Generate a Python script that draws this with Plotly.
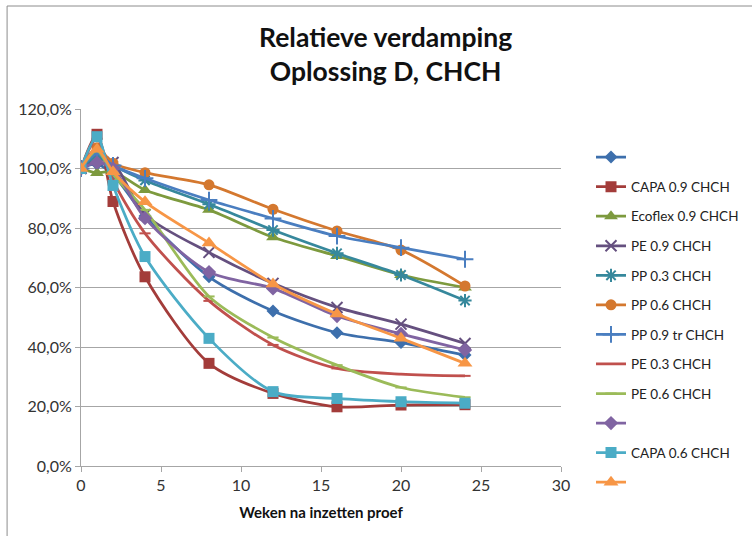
import plotly.graph_objects as go

# weeks after start of test
weeks = [0, 1, 2, 4, 8, 12, 16, 20, 24]

# relative evaporation in percent
s_blue_diamond = [100, 101.5, 98, 84, 63.6, 52.1, 44.8, 41.5, 37.3]
capa_09 = [100, 111.5, 88.9, 63.6, 34.5, 24.4, 19.9, 20.5, 20.6]
ecoflex_09 = [100, 98.5, 99, 92.8, 86.1, 76.9, 70.6, 64.2, 60.0]
pe_09 = [100, 103, 102, 84.5, 71.8, 61.4, 53.3, 47.7, 41.2]
pp_03 = [100, 104, 101, 96, 88.0, 79.3, 71.5, 64.2, 55.6]
pp_06 = [100, 107, 101.8, 98.6, 94.5, 86.3, 79.0, 72.6, 60.5]
pp_09_tr = [100, 105, 101, 96.7, 89.4, 83.2, 77.3, 73.4, 69.5]
pe_03 = [100, 110, 96, 78.2, 55.5, 40.7, 32.8, 30.9, 30.3]
pe_06 = [100, 106, 98, 86.1, 57.0, 43.2, 33.9, 26.4, 23.1]
s_purple_diamond = [100, 102, 100, 83.3, 65.2, 59.7, 50.4, 44.4, 39.0]
capa_06 = [100, 110.7, 94.3, 70.4, 42.9, 25.0, 22.7, 21.6, 21.1]
s_orange_triangle = [100, 106.5, 98.9, 88.8, 75.0, 61.2, 51.1, 42.9, 34.5]

series = [
    (" ", s_blue_diamond, "#3d6fac", "diamond", 10),
    ("CAPA 0.9 CHCH", capa_09, "#a33c3a", "square", 11),
    ("Ecoflex 0.9 CHCH", ecoflex_09, "#7d9a3e", "triangle-up", 12),
    ("PE 0.9 CHCH", pe_09, "#65507f", "x-thin", 11),
    ("PP 0.3 CHCH", pp_03, "#36889c", "asterisk", 11),
    ("PP 0.6 CHCH", pp_06, "#d4782f", "circle", 11),
    ("PP 0.9 tr CHCH", pp_09_tr, "#4a7ec0", "cross-thin", 12),
    ("PE 0.3 CHCH", pe_03, "#c0504d", "line-ew", 8),
    ("PE 0.6 CHCH", pe_06, "#9bbb59", "line-ew", 8),
    ("  ", s_purple_diamond, "#8064a2", "diamond", 11),
    ("CAPA 0.6 CHCH", capa_06, "#4bacc6", "square", 11),
    ("   ", s_orange_triangle, "#f79646", "triangle-up", 13),
]

fig = go.Figure()
for i, (name, vals, color, sym, size) in enumerate(series):
    thin = sym in ("x-thin", "asterisk", "cross-thin", "line-ew")
    fig.add_trace(go.Scatter(
        x=weeks, y=[v / 100 for v in vals],
        mode="lines+markers",
        name=name,
        legendgroup=f"g{i}",
        line=dict(color=color, width=2.75, shape="spline", smoothing=0.8),
        marker=dict(symbol=sym, size=size, color=color,
                    line=dict(color=color, width=2 if thin else 0)),
    ))

grid = "#a6a6a6"
fig.update_layout(
    width=752, height=536,
    paper_bgcolor="white", plot_bgcolor="white",
    margin=dict(l=81, r=191, t=109, b=70, autoexpand=False),
    separators=",.",
    font=dict(family="Lato, 'Open Sans', sans-serif", size=14, color="#222222"),
    xaxis=dict(
        range=[0, 30], dtick=5, showgrid=False, zeroline=False,
        showline=True, linecolor=grid, linewidth=1,
        ticks="outside", ticklen=5, tickcolor=grid,
        tickfont=dict(size=16, color="#333333"),
        title=dict(text="<b>Weken na inzetten proef</b>", font=dict(size=15, color="#111111"), standoff=14),
    ),
    yaxis=dict(
        range=[0, 1.2], dtick=0.2, tickformat=".1%",
        showgrid=True, gridcolor=grid, gridwidth=1, zeroline=False,
        showline=True, linecolor=grid, linewidth=1,
        ticks="outside", ticklen=5, tickcolor=grid,
        tickfont=dict(size=16, color="#333333"),
    ),
    legend=dict(
        x=1.0625, y=0.908, xanchor="left", yanchor="top",
        font=dict(size=13.5, color="#222222"),
        tracegroupgap=9, bgcolor="rgba(0,0,0,0)",
    ),
    shapes=[
        dict(type="line", xref="paper", yref="paper", x0=-0.154, x1=-0.154, y0=-0.2, y1=1.2885,
             line=dict(color="#8c8c8c", width=1), layer="above"),
        dict(type="line", xref="paper", yref="paper", x0=-0.154, x1=1.4, y0=1.2885, y1=1.2885,
             line=dict(color="#8c8c8c", width=1), layer="above"),
    ],
)

# chart title as an annotation so both lines sit where the original puts them
fig.add_annotation(
    text="<b>Relatieve verdamping<br>Oplossing D, CHCH</b>",
    xref="paper", yref="paper", x=0.635, y=1.154,
    xanchor="center", yanchor="middle", showarrow=False,
    font=dict(size=26.5, color="#111111"),
)

fig.write_html("out.html", config={"displayModeBar": False},
               post_script="document.body.style.margin='0';")
